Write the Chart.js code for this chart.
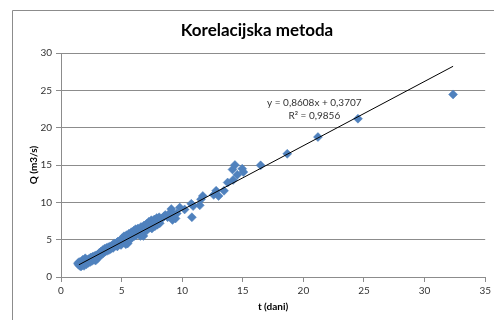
<!DOCTYPE html>
<html>
<head>
<meta charset="utf-8">
<script src="https://cdn.jsdelivr.net/npm/chart.js@4"></script>
<style>
  html, body { margin: 0; padding: 0; background: #fff; }
  #wrap { width: 494px; height: 320px; }
</style>
</head>
<body>
<div id="wrap"><canvas id="chart" width="494" height="320"></canvas></div>
<script>
// vrijednosti ocitane sa slike: t (dani) i Q (m3/s)
const tDani = [
  1.40, 1.45, 1.50, 1.55, 1.60, 1.65, 1.70, 1.75, 1.80, 1.85, 1.90, 1.95, 2.00, 2.05, 2.10, 2.15,
  2.20, 2.25, 2.30, 2.35, 2.40, 2.45, 2.50, 2.55, 2.60, 2.65, 2.70, 2.75, 2.80, 2.85, 2.90, 2.95,
  3.00, 3.05, 3.10, 3.15, 3.20, 3.25, 3.30, 3.35, 3.40, 3.45, 3.50, 3.55, 3.60, 3.65, 3.70, 3.75,
  3.80, 3.85, 3.90, 3.95, 4.00, 4.05, 4.10, 4.20, 4.25, 4.30, 4.35, 4.40, 4.50, 4.55, 4.60, 4.65,
  4.70, 4.75, 4.80, 4.90, 4.95, 5.00, 5.05, 5.10, 5.15, 5.20, 5.25, 5.30, 5.35, 5.40, 5.45, 5.50,
  5.55, 5.60, 5.65, 5.70, 5.75, 5.80, 5.85, 5.90, 6.00, 6.05, 6.10, 6.15, 6.20, 6.30, 6.35, 6.40,
  6.50, 6.55, 6.60, 6.65, 6.70, 6.75, 6.80, 6.85, 6.90, 7.00, 7.05, 7.10, 7.20, 7.25, 7.30, 7.40,
  7.45, 7.50, 7.55, 7.60, 7.70, 7.75, 7.80, 7.90, 7.95, 8.00, 8.10, 8.15, 8.30, 8.50, 8.60, 8.80,
  9.00, 9.10, 9.20, 9.30, 9.45, 9.55, 9.80, 10.20, 10.75, 10.80, 10.90, 11.45, 11.55, 11.70, 12.60, 12.80,
  13.00, 13.45, 13.75, 14.20, 14.15, 14.35, 14.55, 14.95, 15.05, 16.47, 18.67, 21.20, 24.50, 32.35
];
const qM3s = [
  1.85, 1.65, 2.00, 1.50, 1.75, 1.40, 2.10, 1.60, 2.30, 1.85, 1.50, 2.20, 2.50, 1.95, 1.70, 2.30,
  2.10, 1.90, 2.40, 2.20, 2.00, 2.60, 2.35, 2.15, 2.70, 2.50, 2.30, 2.80, 2.60, 2.20, 2.90, 2.70,
  2.45, 3.00, 2.80, 3.20, 2.90, 3.10, 3.40, 3.00, 3.30, 3.60, 3.20, 3.50, 3.80, 3.40, 3.60, 3.90,
  3.50, 3.75, 4.00, 3.60, 3.85, 4.10, 3.75, 4.00, 4.30, 3.90, 4.15, 4.50, 4.20, 4.40, 4.60, 4.10,
  4.75, 4.40, 4.60, 4.90, 4.30, 4.80, 5.20, 4.60, 5.00, 5.45, 4.70, 5.30, 4.40, 5.60, 5.05, 4.50,
  5.40, 5.80, 5.20, 5.00, 5.60, 6.00, 5.35, 5.70, 6.20, 5.50, 5.90, 6.40, 5.60, 6.00, 6.50, 5.80,
  6.30, 5.50, 6.70, 6.00, 5.70, 6.40, 5.50, 6.90, 6.20, 6.50, 7.10, 6.30, 6.80, 7.40, 6.60, 7.00,
  7.60, 6.50, 7.20, 6.90, 7.70, 6.80, 7.30, 7.90, 7.00, 7.50, 8.00, 7.20, 7.80, 8.10, 8.30, 8.00,
  8.60, 9.10, 7.65, 8.40, 7.85, 8.50, 9.30, 9.05, 9.80, 8.00, 9.50, 9.60, 10.40, 10.85, 11.00, 11.55,
  10.85, 11.55, 12.65, 13.00, 14.40, 15.00, 13.70, 14.50, 14.05, 14.95, 16.50, 18.74, 21.20, 24.45
];
// linija trenda (krajnje tocke ocitane sa slike)
const trendT = [1.48, 32.35];
const trendQ = [1.64, 28.22];
const trendTekst = ['y = 0,8608x + 0,3707', 'R² = 0,9856'];
const xTicks = [0, 5, 10, 15, 20, 25, 30, 35];
const yTicks = [0, 5, 10, 15, 20, 25, 30];

const FONT = 'Lato, "Open Sans", sans-serif';
const SIVA = '#8c8c8c';

const tocke = tDani.map((t, i) => ({ x: t, y: qM3s[i] }));
const trend = trendT.map((t, i) => ({ x: t, y: trendQ[i] }));

// okvir grafa, naslov i jednadzba trenda
const ukrasi = {
  id: 'ukrasi',
  beforeDraw(chart) {
    const c = chart.ctx;
    c.save();
    c.fillStyle = '#fff';
    c.fillRect(0, 0, chart.width, chart.height);
    c.strokeStyle = SIVA;
    c.lineWidth = 1;
    c.beginPath();
    c.moveTo(12.5, chart.height);
    c.lineTo(12.5, 10.5);
    c.lineTo(chart.width, 10.5);
    c.stroke();
    c.restore();
  },
  afterDraw(chart) {
    const c = chart.ctx;
    const xs = chart.scales.x, ys = chart.scales.y;
    c.save();
    c.fillStyle = '#000';
    c.font = 'bold 17px ' + FONT;
    c.textAlign = 'center';
    c.textBaseline = 'middle';
    c.fillText('Korelacijska metoda', 257, 31);

    c.fillStyle = '#333';
    c.font = '10px ' + FONT;
    const px = xs.getPixelForValue(20.9);
    const py = ys.getPixelForValue(23.3);
    c.fillText(trendTekst[0], px, py);
    c.fillText(trendTekst[1], px, py + 13);
    c.restore();
  }
};

new Chart(document.getElementById('chart'), {
  type: 'scatter',
  data: {
    datasets: [
      {
        label: 'Q',
        data: tocke,
        pointStyle: 'rectRot',
        pointRadius: 4.5,
        pointBackgroundColor: '#4f81bd',
        pointBorderColor: '#4f81bd',
        pointBorderWidth: 0.5,
        order: 2
      },
      {
        label: 'trend',
        type: 'line',
        data: trend,
        borderColor: '#000',
        borderWidth: 1,
        pointRadius: 0,
        fill: false,
        order: 1
      }
    ]
  },
  options: {
    responsive: false,
    animation: false,
    layout: { padding: { left: 24, top: 53, right: 8, bottom: 0 } },
    plugins: {
      legend: { display: false },
      title: { display: false },
      tooltip: { enabled: false }
    },
    scales: {
      x: {
        type: 'linear',
        min: 0, max: 35,
        afterFit: (s) => { s.height = 43; },
        afterBuildTicks: (s) => { s.ticks = xTicks.map(v => ({ value: v })); },
        grid: { drawOnChartArea: false, color: SIVA, tickLength: 5 },
        border: { color: SIVA },
        ticks: { color: '#333', font: { family: FONT, size: 10 }, padding: 3, maxRotation: 0 },
        title: { display: true, text: 't (dani)', color: '#000',
                 font: { family: FONT, size: 10, weight: 'bold' }, padding: { top: 0, bottom: 7 } }
      },
      y: {
        type: 'linear',
        min: 0, max: 30,
        afterFit: (s) => { s.width = 37; },
        afterBuildTicks: (s) => { s.ticks = yTicks.map(v => ({ value: v })); },
        grid: { color: SIVA, tickLength: 5 },
        border: { color: SIVA },
        ticks: { color: '#333', font: { family: FONT, size: 10 }, padding: 4 },
        title: { display: true, text: 'Q (m3/s)', color: '#000',
                 font: { family: FONT, size: 10, weight: 'bold' }, padding: { top: 4, bottom: 0 } }
      }
    }
  },
  plugins: [ukrasi]
});
</script>
</body>
</html>
